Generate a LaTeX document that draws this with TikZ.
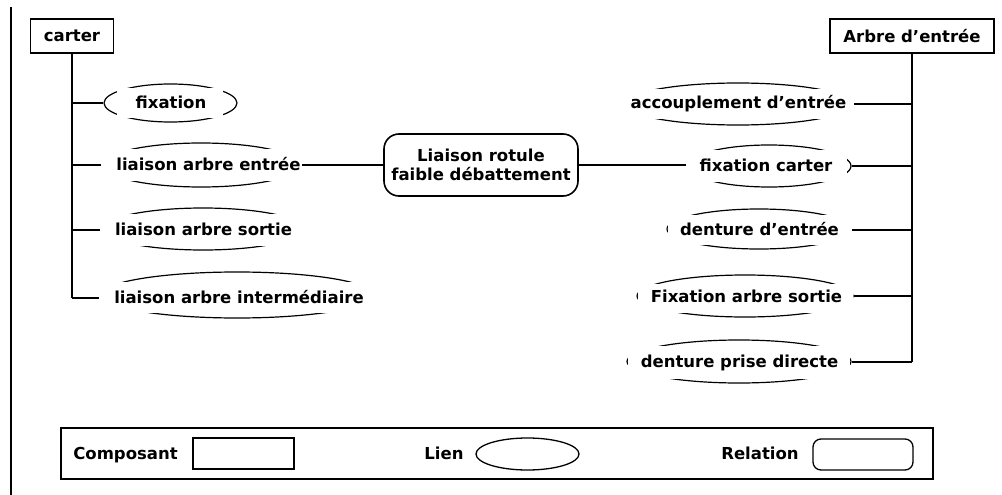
\documentclass[tikz,border=0pt]{standalone}
\usepackage{fontspec}
\setmainfont{DejaVu Sans}
\usetikzlibrary{shapes.geometric}
\begin{document}
\begin{tikzpicture}[x=1pt,y=-1pt,
  font=\fontsize{16.5}{19}\selectfont\bfseries,
  comp/.style={draw,line width=1.6pt,rectangle,inner sep=0pt},
  lien/.style={draw,line width=1.2pt,ellipse,inner sep=0pt},
  cover/.style={fill=white,rectangle,inner sep=0pt},
  txt/.style={inner sep=0pt,text height=13pt,text depth=3pt},
  conn/.style={line width=1.6pt},
  rel/.style={draw,line width=1.6pt,rounded corners=15pt,inner sep=0pt,align=center}]
\useasboundingbox (0,0) rectangle (1002,495);
\coordinate (vt) at (11,7);
\coordinate (vb) at (11,495);
\draw[line width=1.5pt] (vt) -- (vb);

% components
\node[comp,minimum width=83pt,minimum height=34pt] (carter) at (72,36) {carter};
\node[comp,minimum width=164pt,minimum height=34pt] (arbre) at (912,36) {Arbre d’entrée};

% relation
\node[rel,minimum width=194pt,minimum height=62pt] (r) at (481,165) {Liaison rotule\\faible débattement};

% link ellipses (left)
\node[lien,minimum width=133pt,minimum height=38pt] (e1) at (170.5,103) {};
\node[lien,minimum width=198pt,minimum height=44pt] (e2) at (201,165) {};
\node[lien,minimum width=202pt,minimum height=42pt] (e3) at (203,229) {};
\node[lien,minimum width=274pt,minimum height=46pt] (e4) at (237,295) {};
% link ellipses (right)
\node[lien,minimum width=228pt,minimum height=42pt] (f1) at (738,104) {};
\node[lien,minimum width=164pt,minimum height=42pt] (f2) at (769,166) {};
\node[lien,minimum width=184pt,minimum height=40pt] (f3) at (759,229) {};
\node[lien,minimum width=216pt,minimum height=42pt] (f4) at (745,296) {};
\node[lien,minimum width=224pt,minimum height=43pt] (f5) at (739,361.5) {};

% trunks and branches
\coordinate (lb1) at (72,103);
\coordinate (lb2) at (72,165);
\coordinate (lb3) at (72,230);
\coordinate (lb4) at (72,298);
\coordinate (rb1) at (912,104);
\coordinate (rb2) at (912,166);
\coordinate (rb3) at (912,230);
\coordinate (rb4) at (912,296);
\coordinate (rb5) at (912,362);
\draw[conn] (carter.south) -- (lb4);
\draw[conn] (arbre.south) -- (rb5);
\foreach \b/\e in {lb1/e1,lb2/e2,lb3/e3,lb4/e4}
  \draw[conn] (\b) -- (\b -| \e.west);
\foreach \b/\e in {rb1/f1,rb2/f2,rb3/f3,rb4/f4,rb5/f5}
  \draw[conn] (\b) -- (\b -| \e.east);
\draw[conn] (e2.east) -- (r.west);
\draw[conn] (r.east) -- (r.east -| f2.west);

% covers (white text boxes that hide the ellipse sides)
\node[cover,minimum width=106pt,minimum height=29.5pt] (c1) at (170,103) {};
\node[cover,minimum width=201pt,minimum height=32pt] (c2) at (201,165) {};
\node[cover,minimum width=206pt,minimum height=32pt] (c3) at (203,229.5) {};
\node[cover,minimum width=277pt,minimum height=30.4pt] (c4) at (237.5,297.6) {};
\node[cover,minimum width=231pt,minimum height=30pt] (d1) at (738,104) {};
\node[cover,minimum width=161pt,minimum height=32pt] (d2) at (766.5,166) {};
\node[cover,minimum width=184.5pt,minimum height=30pt] (d3) at (760,229.5) {};
\node[cover,minimum width=215.5pt,minimum height=29.2pt] (d4) at (745.5,298.2) {};
\node[cover,minimum width=222pt,minimum height=32.6pt] (d5) at (739,362.2) {};

% texts
\node[txt] (t1) at (171,103) {fixation};
\node[txt] (t2) at (208.5,165) {liaison arbre entrée};
\node[txt] (t3) at (203.5,230) {liaison arbre sortie};
\node[txt] (t4) at (239,298) {liaison arbre intermédiaire};
\node[txt] (u1) at (738.5,104) {accouplement d’entrée};
\node[txt] (u2) at (766,166) {fixation carter};
\node[txt] (u3) at (759.5,230) {denture d’entrée};
\node[txt] (u4) at (746.5,297) {Fixation arbre sortie};
\node[txt] (u5) at (739.5,362) {denture prise directe};

% legend
\node[draw,line width=1.8pt,minimum width=872pt,minimum height=51pt,inner sep=0pt] (leg) at (497,453.5) {};
\node[txt] (lc) at (125.5,454) {Composant};
\node[comp,line width=1.3pt,minimum width=101pt,minimum height=31pt] (lcb) at (243.5,453.5) {};
\node[txt] (ll) at (444,454) {Lien};
\node[lien,line width=1.3pt,minimum width=103pt,minimum height=32pt] (lle) at (527.5,454) {};
\node[txt] (lr) at (760,454) {Relation};
\node[draw,line width=1.3pt,rounded corners=8pt,minimum width=100pt,minimum height=31pt,inner sep=0pt] (lrb) at (863,454.5) {};
\end{tikzpicture}
\end{document}
